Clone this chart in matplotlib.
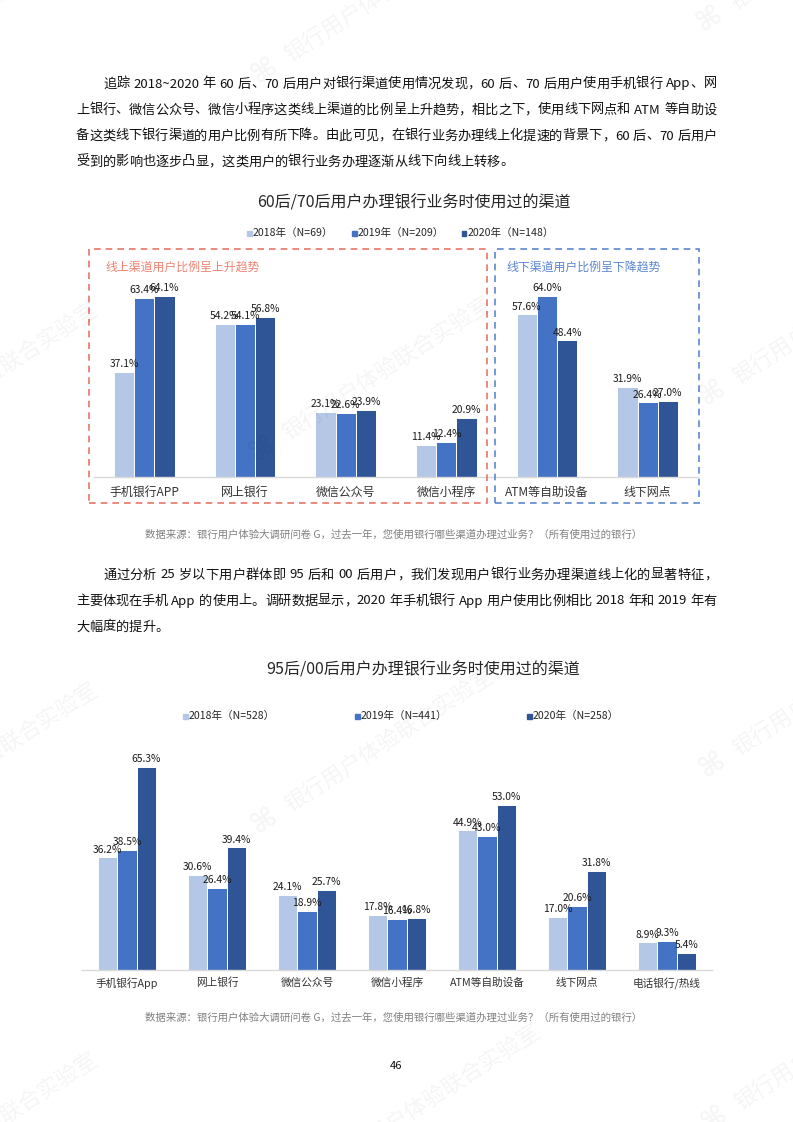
import matplotlib
matplotlib.use('Agg')
import matplotlib.pyplot as plt
from matplotlib.patches import Rectangle
import numpy as np

plt.rcParams['font.family'] = ['Noto Sans CJK SC', 'DejaVu Sans']

W, H = 793, 1122

# --- data: 60后/70后
cats1 = ['手机银行APP', '网上银行', '微信公众号', '微信小程序', 'ATM等自助设备', '线下网点']
a2018 = [37.1, 54.2, 23.1, 11.4, 57.6, 31.9]
a2019 = [63.4, 54.1, 22.6, 12.4, 64.0, 26.4]
a2020 = [64.1, 56.8, 23.9, 20.9, 48.4, 27.0]
legend1 = ['2018年（N=69）', '2019年（N=209）', '2020年（N=148）']

# --- data: 95后/00后
cats2 = ['手机银行App', '网上银行', '微信公众号', '微信小程序', 'ATM等自助设备', '线下网点', '电话银行/热线']
b2018 = [36.2, 30.6, 24.1, 17.8, 44.9, 17.0, 8.9]
b2019 = [38.5, 26.4, 18.9, 16.4, 43.0, 20.6, 9.3]
b2020 = [65.3, 39.4, 25.7, 16.8, 53.0, 31.8, 5.4]
legend2 = ['2018年（N=528）', '2019年（N=441）', '2020年（N=258）']

colors = ['#B4C7E7', '#4472C4', '#2F5597']

para1 = [
    '追踪 2018~2020 年 60 后、70 后用户对银行渠道使用情况发现，60 后、70 后用户使用手机银行 App、网',
    '上银行、微信公众号、微信小程序这类线上渠道的比例呈上升趋势，相比之下，使用线下网点和 ATM 等自助设',
    '备这类线下银行渠道的用户比例有所下降。由此可见，在银行业务办理线上化提速的背景下，60 后、70 后用户',
    '受到的影响也逐步凸显，这类用户的银行业务办理逐渐从线下向线上转移。',
]
para2 = [
    '通过分析 25 岁以下用户群体即 95 后和 00 后用户，我们发现用户银行业务办理渠道线上化的显著特征，',
    '主要体现在手机 App 的使用上。调研数据显示，2020 年手机银行 App 用户使用比例相比 2018 年和 2019 年有',
    '大幅度的提升。',
]
source = '数据来源：银行用户体验大调研问卷 G，过去一年，您使用银行哪些渠道办理过业务？（所有使用过的银行）'


def fx(x):
    return x / W


def fy(y):
    return 1 - y / H


fig = plt.figure(figsize=(W / 100, H / 100), dpi=100)
renderer = fig.canvas.get_renderer()


def split_tokens(line):
    toks = []
    buf = ''
    for c in line:
        if c != ' ' and ord(c) < 128:
            buf += c
        else:
            if buf:
                toks.append(buf)
                buf = ''
            toks.append(c)
    if buf:
        toks.append(buf)
    return toks


def text_line(line, x0, x1, y, size, justify=True, color='#111111'):
    toks = split_tokens(line)
    widths = []
    for t in toks:
        if t == ' ':
            widths.append(size * 1.389 * 0.28)
            continue
        tt = fig.text(0, 0, t, fontsize=size)
        widths.append(tt.get_window_extent(renderer).width)
        tt.remove()
    gap = 0
    if justify and len(toks) > 1:
        gap = (x1 - x0 - sum(widths)) / (len(toks) - 1)
    x = x0
    for t, w in zip(toks, widths):
        if t != ' ':
            fig.text(fx(x), fy(y), t, fontsize=size, color=color, ha='left', va='center')
        x += w + gap


# paragraphs
for i, line in enumerate(para1):
    x0 = 103 if i == 0 else 76
    text_line(line, x0, 717, 84 + 26 * i, 9.5, justify=(i < len(para1) - 1))
for i, line in enumerate(para2):
    x0 = 103 if i == 0 else 76
    text_line(line, x0, 717, 575 + 26 * i, 9.5, justify=(i < len(para2) - 1))


def bar_chart(ax, cats, series, width, labsize, pad):
    x = np.arange(len(cats))
    for k, vals in enumerate(series):
        bars = ax.bar(x + (k - 1) * width, vals, width, color=colors[k],
                      edgecolor='white', linewidth=0.7, zorder=2)
        ax.bar_label(bars, labels=['%.1f%%' % v for v in vals], padding=2,
                     fontsize=7.4, color='#1a1a1a')
    ax.set_xlim(-0.5, len(cats) - 0.5)
    ax.set_ylim(0, 70)
    ax.set_xticks(x, cats)
    ax.set_yticks([])
    ax.tick_params(axis='x', length=0, pad=pad, labelsize=labsize, colors='#333333')
    for s in ['top', 'left', 'right']:
        ax.spines[s].set_visible(False)
    ax.spines['bottom'].set_color('#D9D9D9')
    ax.spines['bottom'].set_linewidth(1.0)
    ax.patch.set_alpha(0)


def legend(labels, xs, y):
    for k, (lab, x) in enumerate(zip(labels, xs)):
        fig.patches.append(Rectangle((fx(x - 2.5), fy(y + 2.5)), 5 / W, 5 / H,
                                     transform=fig.transFigure, color=colors[k]))
        fig.text(fx(x + 3.5), fy(y), lab, fontsize=7.6, color='#262626', ha='left', va='center')


# ---- chart 1
fig.text(fx(414), fy(203), '60后/70后用户办理银行业务时使用过的渠道', fontsize=11.5,
         color='#262626', ha='center', va='center')
legend(legend1, [249, 354, 464], 233)
ax1 = fig.add_axes([fx(94), fy(477), 604 / W, 70 * 2.824 / H])
bar_chart(ax1, cats1, [a2018, a2019, a2020], 0.2, 8.6, 6.5)

fig.patches.append(Rectangle((fx(89), fy(503)), (487 - 89) / W, (503 - 249) / H,
                             transform=fig.transFigure, fill=False, edgecolor='#E8766B',
                             linestyle=(0, (4, 3)), linewidth=1.2))
fig.patches.append(Rectangle((fx(495), fy(503)), (698.5 - 495) / W, (503 - 249) / H,
                             transform=fig.transFigure, fill=False, edgecolor='#5E87CF',
                             linestyle=(0, (4, 3)), linewidth=1.2))
fig.text(fx(105), fy(267), '线上渠道用户比例呈上升趋势', fontsize=8.6, color='#EF8272',
         ha='left', va='center')
fig.text(fx(506), fy(267), '线下渠道用户比例呈下降趋势', fontsize=8.6, color='#5B86CF',
         ha='left', va='center')
fig.text(fx(394), fy(535), source, fontsize=7.5, color='#808080', ha='center', va='center')

# ---- chart 2
fig.text(fx(423), fy(670), '95后/00后用户办理银行业务时使用过的渠道', fontsize=11.5,
         color='#262626', ha='center', va='center')
legend(legend2, [185, 357, 529], 716)
ax2 = fig.add_axes([fx(82), fy(970), 630 / W, 70 * 3.11 / H])
bar_chart(ax2, cats2, [b2018, b2019, b2020], 0.214, 7.7, 5.5)
fig.text(fx(394), fy(1018), source, fontsize=7.5, color='#808080', ha='center', va='center')

fig.text(fx(396), fy(1066), '46', fontsize=8, color='#111111', ha='center', va='center')

# ---- watermark
wm = '银行用户体验联合实验室'
wm_pos = [(-110, 75), (290, 62), (735, 10),
          (-106, 446), (288, 440), (738, 384),
          (-106, 826), (290, 812), (738, 756),
          (-106, 1196), (336, 1168), (740, 1110)]
for (x, y) in wm_pos:
    fig.text(fx(x), fy(y), wm, fontsize=16, color='black', alpha=0.045,
             rotation=33, rotation_mode='anchor', ha='left', va='baseline', zorder=20)
    fig.text(fx(x - 26), fy(y + 8), '⌘', fontsize=20, color='black', alpha=0.04,
             family='DejaVu Sans', fontweight='bold', rotation=33,
             ha='center', va='center', zorder=20)

fig.savefig('out.png', dpi=100)
